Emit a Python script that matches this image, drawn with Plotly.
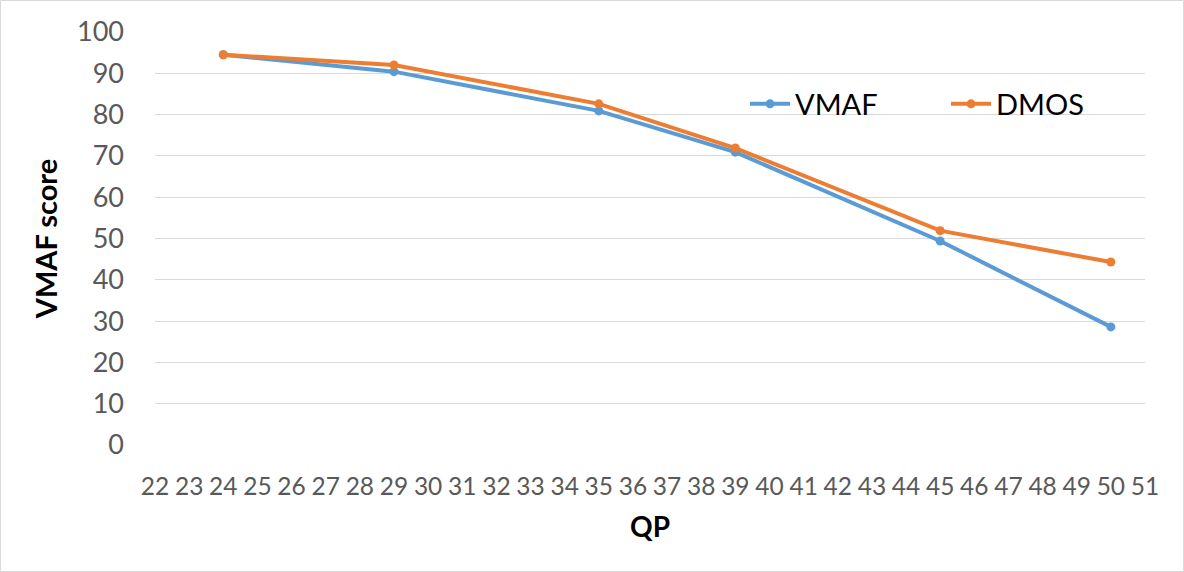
import plotly.graph_objects as go

qp_ticks = list(range(22, 52))
qp = [24, 29, 35, 39, 45, 50]
vmaf = [94.5, 90.4, 80.9, 70.9, 49.4, 28.6]
dmos = [94.5, 92.0, 82.6, 71.9, 51.9, 44.3]

W, H = 1184, 572
L, R, T, B = 155, 39, 32, 127
pw, ph = W - L - R, H - T - B

FONT = "Lato"
fig = go.Figure()
fig.add_trace(go.Scatter(x=qp, y=vmaf, name="VMAF", mode="lines+markers",
                         line=dict(color="#5B9BD5", width=4),
                         marker=dict(size=9, color="#5B9BD5"), cliponaxis=False))
fig.add_trace(go.Scatter(x=qp, y=dmos, name="DMOS", mode="lines+markers",
                         line=dict(color="#ED7D31", width=4),
                         marker=dict(size=9, color="#ED7D31"), cliponaxis=False))

fig.update_layout(
    width=W, height=H,
    margin=dict(l=L, r=R, t=T, b=B, autoexpand=False),
    paper_bgcolor="white", plot_bgcolor="white",
    font=dict(family=FONT, color="#595959", size=25),
    xaxis=dict(range=[22, 51], tickmode="array", tickvals=qp_ticks,
               ticktext=[str(v) for v in qp_ticks], showgrid=False,
               zeroline=False, showline=False, ticks="", ticklabelstandoff=24,
               tickfont=dict(size=24.5, color="#595959"),
               title=dict(text="<b>QP</b>", font=dict(size=28, color="black"), standoff=18)),
    yaxis=dict(range=[0, 100], dtick=10, showgrid=True, gridcolor="#D9D9D9",
               gridwidth=1, zeroline=False, showline=False, ticks="",
               ticklabelstandoff=30, tickfont=dict(size=27, color="#595959"),
               title=dict(text="<b>VMAF score</b>", font=dict(size=29, color="black"), standoff=10)),
    legend=dict(orientation="h", x=(745 - L) / pw, y=(H - B - 104) / ph,
                xanchor="left", yanchor="middle", bgcolor="rgba(0,0,0,0)",
                font=dict(size=29, color="black"), entrywidth=146, itemwidth=40),
    showlegend=True,
)
fig.add_shape(type="rect", xref="paper", yref="paper",
              x0=(0.5 - L) / pw, x1=(W - 0.5 - L) / pw,
              y0=(-(B - 0.5)) / ph, y1=(ph + T - 0.5) / ph,
              line=dict(color="#D9D9D9", width=1), fillcolor="rgba(0,0,0,0)", layer="below")
fig.write_html("out.html")
